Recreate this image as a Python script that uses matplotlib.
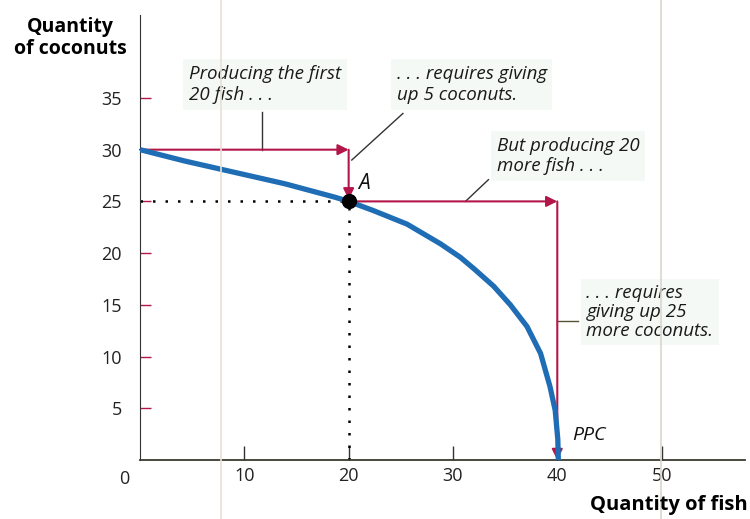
import matplotlib.pyplot as plt
from matplotlib.lines import Line2D

# PPC
fish = [0, 4.3, 9.1, 13.9, 18.7, 20, 22.4, 25.6, 28.8, 30.7, 32.0, 33.9, 35.5, 37.1, 38.4, 39.3, 39.8, 40.05, 40.1]
coconuts = [30, 28.9, 27.8, 26.7, 25.4, 25, 24.1, 22.8, 20.9, 19.6, 18.5, 16.8, 15.0, 12.9, 10.3, 7.1, 4.8, 2.0, 0]

y_ticks = [5, 10, 15, 20, 25, 30, 35]
x_ticks = [10, 20, 30, 40, 50]

point_a = (20, 25)
red = '#b3174a'
blue = '#1f6db5'
box = dict(boxstyle='square,pad=0.3', facecolor='#f4f9f6', edgecolor='none')

plt.rcParams['font.family'] = ['Open Sans', 'DejaVu Sans']

fig = plt.figure(figsize=(7.5, 5.19), dpi=100)
# faint scan lines from the page
fig.add_artist(Line2D([221 / 750, 221 / 750], [0, 1], color='#e8e1d2', lw=1.2, transform=fig.transFigure))
fig.add_artist(Line2D([661 / 750, 661 / 750], [0, 1], color='#dcd7cd', lw=1.2, transform=fig.transFigure))

ax = fig.add_axes([0.1867, 0.1137, 0.8067, 0.857])
ax.set_xlim(0, 58)
ax.set_ylim(0, 43)
ax.spines['top'].set_visible(False)
ax.spines['right'].set_visible(False)
ax.spines['left'].set_color('#333333')
ax.spines['bottom'].set_color('#3a3a30')
ax.spines['bottom'].set_linewidth(1.3)

ax.set_yticks(y_ticks)
ax.set_xticks(x_ticks)
ax.tick_params(axis='y', direction='in', length=8, width=1, color=red, pad=13, labelsize=13, labelcolor='#222222')
ax.tick_params(axis='x', direction='in', length=10, width=1, color='#333333', pad=5, labelsize=13, labelcolor='#222222')
ax.text(-1.5, -1.8, '0', fontsize=13, color='#222222', ha='center', va='center')

# dotted guides to point A
ax.plot([0, point_a[0]], [point_a[1], point_a[1]], color='black', ls=(0, (1, 4)), lw=1.8)
ax.plot([point_a[0], point_a[0]], [0, point_a[1]], color='black', ls=(0, (1, 4)), lw=1.8)

# red step arrows
arr = dict(arrowstyle='-|>', color=red, lw=1.5, mutation_scale=16, shrinkA=0, shrinkB=0)
ax.annotate('', xy=(20, 30), xytext=(0, 30), arrowprops=arr)
ax.annotate('', xy=(20, 25.2), xytext=(20, 30), arrowprops=arr)
ax.annotate('', xy=(40, 25), xytext=(20, 25), arrowprops=arr)
ax.annotate('', xy=(40, 0), xytext=(40, 25), arrowprops=arr)

# PPC curve
ax.plot(fish, coconuts, color=blue, lw=3.8, solid_capstyle='butt', solid_joinstyle='round', zorder=3)
ax.plot(*point_a, 'o', color='black', ms=10, zorder=4)
ax.text(20.9, 26.2, 'A', fontsize=15, style='italic', color='#111111')
ax.text(41.4, 1.9, 'PPC', fontsize=14, style='italic', color='#111111')

# callouts
ax.text(4.7, 36.3, 'Producing the first\n20 fish . . .', fontsize=13.5, style='italic', color='#1a1a1a',
        va='center', linespacing=1.2, bbox=box)
ax.plot([11.7, 11.7], [30, 33.6], color='#333333', lw=1)
ax.text(24.6, 36.3, '. . . requires giving\nup 5 coconuts.', fontsize=13.5, style='italic', color='#1a1a1a',
        va='center', linespacing=1.2, bbox=box)
ax.plot([20.3, 25.2], [29.0, 33.5], color='#333333', lw=1)
ax.text(34.2, 29.4, 'But producing 20\nmore fish . . .', fontsize=13.5, style='italic', color='#1a1a1a',
        va='center', linespacing=1.15, bbox=box)
ax.plot([31.2, 33.4], [25, 27.1], color='#333333', lw=1)
ax.text(42.8, 14.3, '. . . requires\ngiving up 25\nmore coconuts.', fontsize=13.5, style='italic', color='#1a1a1a',
        va='center', linespacing=1.05, bbox=box)
ax.plot([40, 42.0], [13.4, 13.4], color='#555533', lw=1)

fig.text(70 / 750, 1 - 38 / 519, 'Quantity\nof coconuts', fontsize=14, fontweight='bold', ha='center',
         va='center', linespacing=1.1)
fig.text(748 / 750, 1 - 505 / 519, 'Quantity of fish', fontsize=14.5, fontweight='bold', ha='right', va='center')

fig.savefig('out.png', dpi=100)
